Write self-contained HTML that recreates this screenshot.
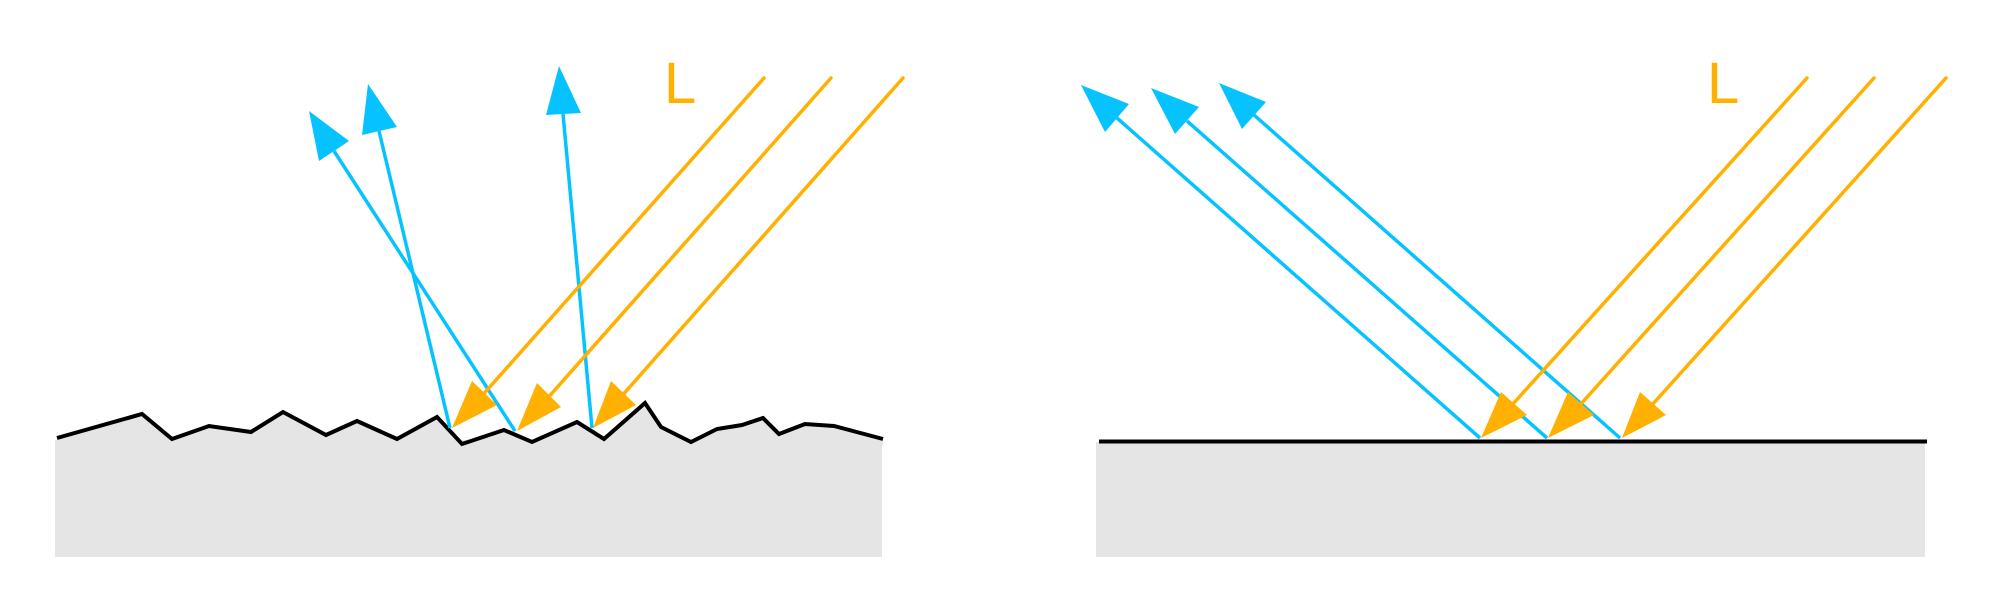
<!DOCTYPE html>
<html><head><style>html,body{margin:0;padding:0;background:#fff;}svg{display:block}</style></head>
<body>
<svg width="1999" height="604" viewBox="0 0 1999 604" xmlns="http://www.w3.org/2000/svg">
<rect x="55" y="440" width="827" height="117" fill="#e4e5e4"/>
<polygon points="57,438 142,414 172,439 209,426 251,432 283,412 326,435 357,421 397,439 437,417 462,444 504,430 532,442 577,422 604,439 645,403 661,427 691,442 717,429 742,425 763,418 779,434 805,424 834,426 883,439 883,445 57,445" fill="#e4e5e4"/>
<polyline points="57,438 142,414 172,439 209,426 251,432 283,412 326,435 357,421 397,439 437,417 462,444 504,430 532,442 577,422 604,439 645,403 661,427 691,442 717,429 742,425 763,418 779,434 805,424 834,426 883,439" fill="none" stroke="#000" stroke-width="4"/>
<g stroke="#06c3ff" stroke-width="3.5" fill="none">
<line x1="515" y1="431" x2="334" y2="151"/>
<line x1="450" y1="428" x2="379" y2="131"/>
<line x1="592" y1="428" x2="563" y2="114"/>
</g>
<g fill="#06c3ff">
<polygon points="309,111 319,161 349,141"/>
<polygon points="368,84 362,135 397,127"/>
<polygon points="559,66 546,115 581,113"/>
</g>
<g stroke="#ffb000" stroke-width="3.5" fill="none" stroke-linecap="round">
<line x1="764" y1="78" x2="480" y2="398"/>
<line x1="831" y1="78" x2="546" y2="400"/>
<line x1="903" y1="78" x2="620" y2="398"/>
</g>
<g fill="#ffb000">
<polygon points="452,428 472,381 497,405"/>
<polygon points="517,431 537,383 561,407"/>
<polygon points="593,428 611,381 636,405"/>
</g>
<text x="664" y="103" font-family="Liberation Sans, sans-serif" font-size="58" fill="#ffb000">L</text>

<rect x="1096" y="442" width="829" height="115" fill="#e4e5e4"/>
<line x1="1099" y1="441.5" x2="1927" y2="441.5" stroke="#000" stroke-width="4"/>
<g stroke="#06c3ff" stroke-width="3.5" fill="none">
<line x1="1480" y1="438" x2="1117" y2="118"/>
<line x1="1547" y1="438" x2="1187" y2="121"/>
<line x1="1620" y1="438" x2="1254" y2="115"/>
</g>
<g fill="#06c3ff">
<polygon points="1081,85 1105,132 1129,104"/>
<polygon points="1151,88 1175,134 1199,107"/>
<polygon points="1219,83 1242,129 1266,102"/>
</g>
<g stroke="#ffb000" stroke-width="3.5" fill="none" stroke-linecap="round">
<line x1="1807" y1="78" x2="1512" y2="405"/>
<line x1="1874" y1="78" x2="1580" y2="405"/>
<line x1="1946" y1="78" x2="1652" y2="405"/>
</g>
<g fill="#ffb000">
<polygon points="1481,438 1501,392 1527,415"/>
<polygon points="1548,438 1568,392 1594,415"/>
<polygon points="1622,438 1640,392 1666,415"/>
</g>
<text x="1707" y="103" font-family="Liberation Sans, sans-serif" font-size="58" fill="#ffb000">L</text>
</svg>
</body></html>
